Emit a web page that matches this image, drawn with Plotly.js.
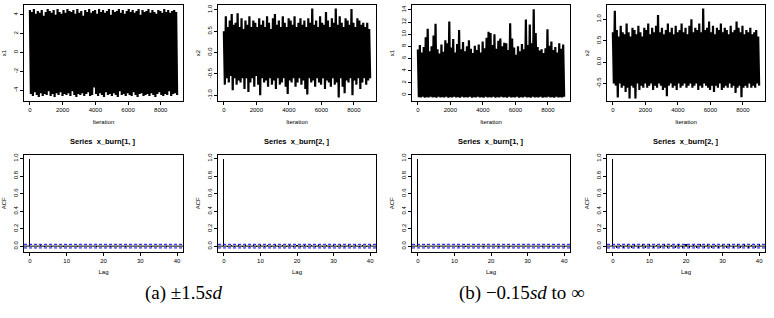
<!DOCTYPE html>
<html><head><meta charset="utf-8">
<script src="https://cdn.plot.ly/plotly-3.0.1.min.js"></script>
<style>html,body{margin:0;padding:0;background:#fff}#chart{width:774px;height:318px}</style>
</head><body><div id="chart"></div>
<script>
// ---- data (trace envelopes, alternating high/low) ----
const xa1 = [4.5,-4.4,4.3,-4.6,4.6,-4.2,4.1,-4.5,4.4,-4.7,4.2,-4.3,4.5,-4.6,3.9,-4.4,4.3,-4.5,4.6,-4.1,
4.4,-4.6,4.2,-4.4,4.5,-4.7,4.0,-4.3,4.6,-4.5,4.3,-4.2,4.1,-4.6,4.5,-4.4,4.2,-4.5,4.6,-4.3,
4.4,-4.6,4.3,-4.1,4.5,-4.5,4.1,-4.7,4.6,-4.4,4.2,-4.5,4.4,-4.3,3.9,-4.6,4.5,-4.4,4.3,-4.2,
4.6,-4.6,4.2,-4.5,4.4,-3.7,4.5,-4.4,4.1,-4.6,4.6,-4.3,4.3,-4.5,4.5,-4.7,4.2,-4.2,4.4,-4.5,
4.6,-4.4,4.0,-4.6,4.5,-4.3,4.3,-4.5,4.4,-4.7,4.6,-4.1,4.2,-4.5,4.5,-4.4,4.1,-4.6,4.4,-4.3,
4.6,-4.5,4.3,-4.6,4.5,-4.2,4.2,-4.5,4.4,-4.7,4.6,-4.4,4.0,-4.3,4.5,-4.6,4.3,-4.5,4.4,-4.4,
4.6,-4.6,4.2,-4.3,4.5,-4.5,4.3,-4.7,4.1,-4.4,4.5,-4.2,4.4,-4.5,4.2,-4.6,4.6,-4.4,4.3,-4.5,
4.5,-4.1,4.2,-4.6,4.4,-4.4,4.5,-4.3,4.3,-4.5];
const xa2 = [0.5,-0.75,0.85,-0.6,0.6,-0.7,0.75,-0.55,0.9,-0.88,0.65,-0.6,0.7,-0.75,0.92,-0.65,0.6,-0.7,0.8,-0.6,
0.55,-0.85,0.75,-0.6,0.65,-0.92,0.85,-0.7,0.6,-0.6,0.75,-0.8,0.7,-0.55,0.6,-0.75,0.8,-1.0,0.65,-0.6,
0.75,-0.7,0.6,-0.65,0.85,-0.8,0.7,-0.6,0.55,-0.75,0.8,-0.65,0.9,-0.85,0.65,-0.6,0.75,-0.75,0.6,-0.7,
0.85,-0.6,0.7,-0.8,0.6,-0.97,0.8,-0.65,0.75,-0.7,0.65,-0.6,0.85,-0.8,0.6,-0.7,0.7,-0.6,0.8,-0.75,
0.65,-0.65,0.75,-0.85,0.6,-0.98,0.8,-0.6,0.7,-0.7,1.03,-0.65,0.65,-0.8,0.75,-0.6,0.6,-0.7,0.85,-0.75,
0.7,-0.6,0.65,-0.85,0.95,-0.65,0.75,-0.7,0.6,-0.8,0.8,-0.6,0.7,-0.75,1.03,-0.7,0.65,-1.05,0.85,-0.6,
0.7,-0.8,0.6,-0.95,0.8,-0.65,0.75,-0.7,0.65,-0.6,1.02,-1.0,0.7,-0.65,0.6,-0.75,0.8,-0.6,0.75,-0.85,
0.65,-0.7,0.7,-0.6,0.6,-0.75,0.7,-0.65,0.55,-0.6];
const xb1 = [7.5,-0.35,8.2,-0.4,7.0,-0.3,7.9,-0.45,9.5,-0.35,10.9,-0.4,7.2,-0.3,8.0,-0.4,9.8,-0.35,11.7,-0.45,
7.5,-0.3,6.8,-0.4,8.3,-0.35,7.1,-0.4,9.0,-0.3,8.5,-0.45,12.1,-0.35,7.8,-0.4,9.2,-0.3,7.0,-0.4,
8.4,-0.35,10.7,-0.45,7.5,-0.3,8.7,-0.4,7.2,-0.35,8.0,-0.4,9.0,-0.3,7.6,-0.45,6.9,-0.35,8.1,-0.4,
7.4,-0.3,8.3,-0.4,7.0,-0.35,8.8,-0.45,7.7,-0.3,9.4,-0.4,10.4,-0.35,10.2,-0.4,8.2,-0.3,10.0,-0.45,
7.6,-0.35,8.9,-0.4,9.3,-0.3,8.0,-0.4,8.6,-0.35,8.5,-0.45,7.4,-0.3,11.8,-0.4,9.3,-0.35,7.8,-0.4,
6.6,-0.3,8.0,-0.45,7.2,-0.35,8.4,-0.4,7.5,-0.3,12.4,-0.4,8.2,-0.35,11.6,-0.45,8.5,-0.3,14.1,-0.4,
10.2,-0.35,7.9,-0.4,7.3,-0.3,7.5,-0.45,6.9,-0.35,7.7,-0.4,10.8,-0.3,8.1,-0.4,8.8,-0.35,7.4,-0.45,
7.9,-0.3,7.0,-0.4,8.5,-0.35,7.6,-0.4,8.3,-0.3];
const xb2 = [0.7,-0.5,1.2,-0.55,0.75,-0.83,0.6,-0.5,0.85,-0.6,0.7,-0.55,0.65,-0.7,0.9,-0.6,0.7,-0.85,0.6,-0.55,
0.8,-0.6,0.75,-0.85,0.65,-0.5,0.85,-0.65,0.7,-0.55,0.6,-0.6,0.8,-0.5,0.75,-0.6,0.9,-0.55,0.65,-0.5,
0.8,-0.65,0.7,-0.55,0.85,-0.6,1.1,-0.5,0.7,-0.55,0.8,-0.65,0.65,-0.6,0.75,-0.8,0.9,-0.55,0.7,-0.5,
0.8,-0.6,0.65,-0.55,0.85,-0.65,0.7,-0.5,0.75,-0.6,0.9,-0.55,0.7,-0.5,0.8,-0.6,0.65,-0.55,0.85,-0.5,
1.0,-0.6,0.7,-0.55,0.8,-0.5,0.75,-0.65,0.9,-0.55,0.7,-0.6,1.25,-0.5,0.75,-0.55,0.8,-0.6,0.95,-0.65,
0.7,-0.55,0.85,-0.7,0.65,-0.55,0.8,-0.6,0.75,-0.5,0.9,-0.65,0.7,-0.6,0.8,-0.55,0.75,-0.6,0.65,-0.5,
0.85,-0.6,0.7,-0.55,0.75,-0.72,0.95,-0.6,0.8,-0.55,0.7,-0.82,0.85,-0.6,0.65,-0.55,0.75,-0.6,0.7,-0.5,
0.8,-0.6,0.65,-0.55,0.7,-0.6,0.75,-0.5,0.6,-0.55];

const lags = [0,1,2,3,4,5,6,7,8,9,10,11,12,13,14,15,16,17,18,19,20,21,22,23,24,25,26,27,28,29,30,31,32,33,34,35,36,37,38,39,40];
const acfA1 = [1,0.006,-0.004,0.008,-0.005,0.003,-0.007,0.005,0.002,-0.006,0.004,-0.003,0.007,-0.005,0.004,0.006,-0.004,0.003,-0.008,0.005,-0.002,0.006,-0.005,0.004,-0.003,0.007,-0.006,0.003,0.005,-0.004,0.006,-0.003,0.004,-0.007,0.005,-0.002,0.004,-0.006,0.003,-0.004,0.005];
const acfA2 = [1,-0.012,0.011,-0.013,0.010,-0.012,0.013,-0.011,0.012,-0.010,0.013,-0.012,0.011,-0.013,0.012,-0.011,0.010,-0.012,0.013,-0.011,0.012,-0.013,0.011,-0.010,0.012,-0.012,0.013,-0.011,0.010,-0.012,0.011,-0.013,0.012,-0.011,0.013,-0.010,0.012,-0.012,0.011,-0.013,0.012];
const acfB1 = [1,0.005,-0.006,0.004,0.007,-0.003,-0.005,0.006,-0.004,0.003,0.005,-0.006,0.004,-0.005,0.006,-0.003,0.004,0.005,-0.006,0.003,-0.004,0.006,-0.005,0.004,0.003,-0.006,0.005,-0.004,0.006,-0.003,0.005,-0.004,0.003,0.006,-0.005,0.004,-0.006,0.005,-0.003,0.004,-0.005];
const acfB2 = [1,-0.019,0.018,-0.020,0.017,-0.019,0.020,-0.018,0.019,-0.017,0.020,-0.019,0.018,-0.020,0.019,-0.018,0.017,-0.019,0.020,-0.018,0.019,-0.020,0.018,-0.017,0.019,-0.019,0.020,-0.018,0.017,-0.019,0.018,-0.020,0.019,-0.018,0.020,-0.017,0.019,-0.019,0.018,-0.020,0.019];
const clim = 0.0207;

const iterTicks = [0,2000,4000,6000,8000];
const iterText = ['0','2000','4000','6000','8000'];
const yA1Ticks = [-4,-2,0,2,4], yA1Text = ['-4','-2','0','2','4'];
const yA2Ticks = [-1,-0.5,0,0.5,1], yA2Text = ['-1.0','-0.5','0.0','0.5','1.0'];
const yB1Ticks = [0,2,4,6,8,10,12,14], yB1Text = ['0','2','4','6','8','10','12','14'];
const yB2Ticks = [-0.5,0,0.5,1], yB2Text = ['-0.5','0.0','0.5','1.0'];
const acfTicks = [0,0.2,0.4,0.6,0.8,1], acfText = ['0.0','0.2','0.4','0.6','0.8','1.0'];
const lagTicks = [0,10,20,30,40], lagText = ['0','10','20','30','40'];
const acfTitles = ['Series\u00a0 x_burn[1, ]','Series\u00a0 x_burn[2, ]','Series\u00a0 x_burn[1, ]','Series\u00a0 x_burn[2, ]'];
const traceYLabels = ['x1','x2','x1','x2'];
const captions = ['(a) \u00b11.5<i>sd</i>','(b) \u22120.15<i>sd</i> to \u221e'];

// ---- layout geometry (pixels) ----
const W = 774, H = 318;
const colX = [[24,183],[218,376],[412,570],[607,765]];
const topY = [5,101], botY = [155,251.5];
const xd = c => [c[0]/W, c[1]/W];
const yd = r => [1 - r[1]/H, 1 - r[0]/H];

const FONT = 'Liberation Sans, Arial, sans-serif';
const tickFont = {family: FONT, size: 6, color: '#000'};

function iterOf(n){ return Array.from({length:n}, (_,i)=> 1 + Math.round(i*8999/(n-1))); }

const series = [xa1, xa2, xb1, xb2];
const yRanges = [[-5.13,5.03],[-1.133,1.113],[-0.99,14.8],[-0.91,1.335]];
const yTicks = [[yA1Ticks,yA1Text],[yA2Ticks,yA2Text],[yB1Ticks,yB1Text],[yB2Ticks,yB2Text]];
const acfs = [acfA1, acfA2, acfB1, acfB2];

const data = [];
const layout = {
  width: W, height: H, margin: {l:0,r:0,t:0,b:0},
  paper_bgcolor: '#fff', plot_bgcolor: '#fff', showlegend: false,
  font: {family: FONT, color: '#000'},
  shapes: [], annotations: [], bargap: 0
};

function axCommon(){
  return {showline:true, mirror:true, linecolor:'#000', linewidth:1, showgrid:false, zeroline:false,
    ticks:'outside', ticklen:3, tickwidth:1, tickcolor:'#000', tickfont: tickFont, tickmode:'array', fixedrange:true};
}

for (let k=0;k<4;k++){
  const ax = k+1, axb = k+5;
  const xn = ax===1 ? 'x' : 'x'+ax, yn = ax===1 ? 'y' : 'y'+ax;
  data.push({type:'scatter', mode:'lines', x: iterOf(series[k].length), y: series[k], xaxis: xn, yaxis: yn,
    line:{color:'#000', width:2.2}, hoverinfo:'skip'});
  layout['xaxis'+(ax===1?'':ax)] = Object.assign(axCommon(), {domain: xd(colX[k]), anchor: yn, range:[-360,9360],
    tickvals: iterTicks, ticktext: iterText,
    title:{text:'Iteration', font:{family:FONT,size:6,color:'#000'}, standoff:7}});
  layout['yaxis'+(ax===1?'':ax)] = Object.assign(axCommon(), {domain: yd(topY), anchor: xn, range: yRanges[k],
    tickvals: yTicks[k][0], ticktext: yTicks[k][1], tickangle:-90,
    title:{text: traceYLabels[k], font:{family:FONT,size:6,color:'#000'}, standoff:5}});

  const xb = 'x'+axb, yb = 'y'+axb;
  data.push({type:'bar', x: lags, y: acfs[k], xaxis: xb, yaxis: yb, width: 0.28,
    marker:{color:'#000', line:{width:0}}, hoverinfo:'skip'});
  layout['xaxis'+axb] = Object.assign(axCommon(), {domain: xd(colX[k]), anchor: yb, range:[-1.6,41.6],
    tickvals: lagTicks, ticktext: lagText,
    title:{text:'Lag', font:{family:FONT,size:6,color:'#000'}, standoff:7}});
  layout['yaxis'+axb] = Object.assign(axCommon(), {domain: yd(botY), anchor: xb, range:[-0.0615,1.041],
    tickvals: acfTicks, ticktext: acfText, tickangle:-90,
    title:{text:'ACF', font:{family:FONT,size:6,color:'#000'}, standoff:5}});

  layout.shapes.push({type:'line', xref: xb+' domain', yref: yb, x0:0, x1:1, y0:0, y1:0, line:{color:'#000', width:1}});
  layout.shapes.push({type:'line', xref: xb+' domain', yref: yb, x0:0, x1:1, y0:clim, y1:clim, line:{color:'#0000ff', width:1, dash:'3px,2px'}});
  layout.shapes.push({type:'line', xref: xb+' domain', yref: yb, x0:0, x1:1, y0:-clim, y1:-clim, line:{color:'#0000ff', width:1, dash:'3px,2px'}});

  layout.annotations.push({xref:'paper', yref:'paper', x:(colX[k][0]+colX[k][1])/2/W, y:1-141.5/H,
    xanchor:'center', yanchor:'middle', showarrow:false, text:'<b>'+acfTitles[k]+'</b>',
    font:{family:FONT, size:7.5, color:'#000'}});
}

layout.annotations.push({xref:'paper', yref:'paper', x:183/W, y:1-293/H, xanchor:'center', yanchor:'middle', showarrow:false,
  text: captions[0], font:{family:'Liberation Serif, Times New Roman, serif', size:19, color:'#000'}});
layout.annotations.push({xref:'paper', yref:'paper', x:521.5/W, y:1-293/H, xanchor:'center', yanchor:'middle', showarrow:false,
  text: captions[1], font:{family:'Liberation Serif, Times New Roman, serif', size:19, color:'#000'}});

Plotly.newPlot('chart', data, layout, {staticPlot:true, displayModeBar:false});
</script></body></html>
